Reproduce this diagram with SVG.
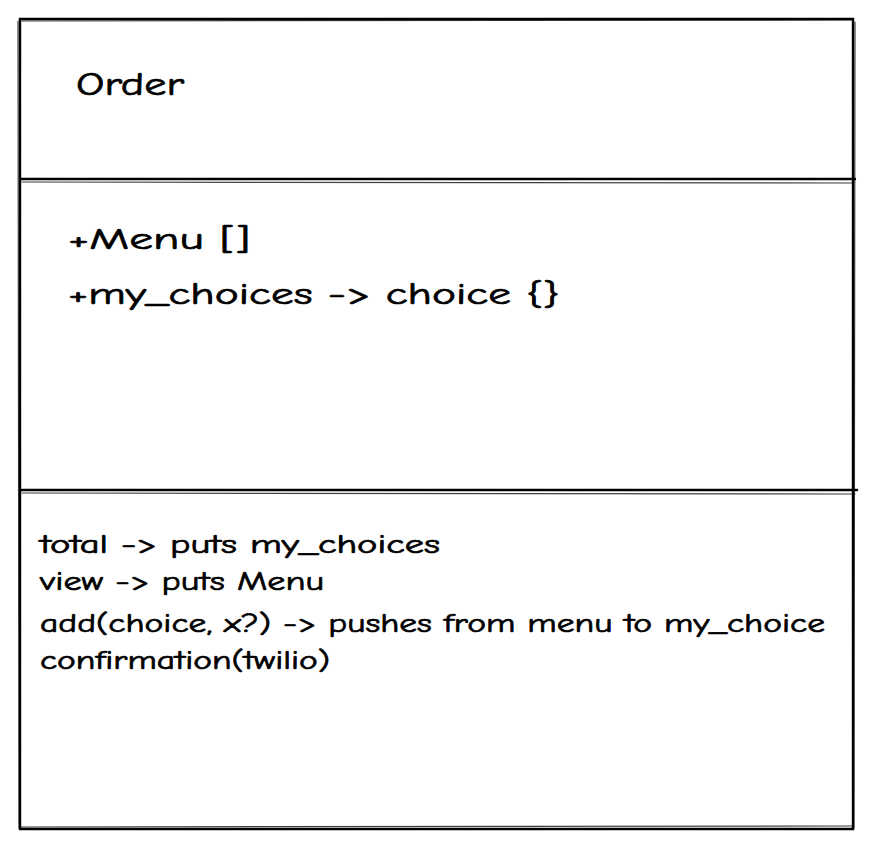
<svg xmlns="http://www.w3.org/2000/svg" width="877" height="850" viewBox="0 0 877 850">
<style>
.edge{fill:none;stroke:#000;stroke-width:2.4;stroke-linecap:round}
.edge2{fill:none;stroke:#000;stroke-width:1.2;stroke-linecap:round;opacity:0.75}
.t{font-family:"Comic Neue","Noto Sans","Liberation Sans",sans-serif;fill:#000;stroke:#000;stroke-width:0.7;stroke-linejoin:round}
.big{font-size:32px}
.mid{font-size:31px}
.small{font-size:27px}
</style>
<rect width="877" height="850" fill="#fff"/>
<g id="order-class">
  <g id="frame">
    <path class="edge" d="M20 19 L853 19 L853 829 L20 829 Z"/>
    <path class="edge2" d="M22 21 L851 20 M855 22 L854 828 M21 827 L853 826 M18 21 L19 828"/>
  </g>
  <g id="name-compartment">
    <text class="t big" x="76" y="95" textLength="108" lengthAdjust="spacingAndGlyphs">Order</text>
  </g>
  <g id="attributes-compartment">
    <path class="edge" d="M21 179 L855 179"/>
    <path class="edge2" d="M22 182 L853 183"/>
    <text class="t mid" x="68" y="249" textLength="182" lengthAdjust="spacingAndGlyphs">+Menu []</text>
    <text class="t mid" x="68" y="304" textLength="492" lengthAdjust="spacingAndGlyphs">+my_choices -&gt; choice {}</text>
  </g>
  <g id="operations-compartment">
    <path class="edge" d="M21 490 L857 490"/>
    <path class="edge2" d="M22 493 L855 494"/>
    <text class="t small" x="40" y="553" textLength="400" lengthAdjust="spacingAndGlyphs">total -&gt; puts my_choices</text>
    <text class="t small" x="40" y="590" textLength="284" lengthAdjust="spacingAndGlyphs">view -&gt; puts Menu</text>
    <text class="t small" x="40" y="632" textLength="785" lengthAdjust="spacingAndGlyphs">add(choice, x?) -&gt; pushes from menu to my_choice</text>
    <text class="t small" x="40" y="669" textLength="290" lengthAdjust="spacingAndGlyphs">confirmation(twilio)</text>
  </g>
</g>
<g id="connectors"></g>
</svg>
